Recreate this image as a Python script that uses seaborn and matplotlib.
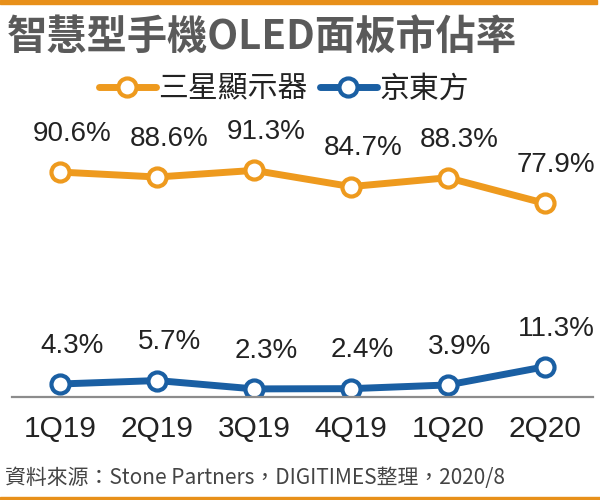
import numpy as np
import pandas as pd
import matplotlib
matplotlib.use("Agg")
import matplotlib.pyplot as plt
from matplotlib.patches import Rectangle
import seaborn as sns

# data
quarters = ["1Q19", "2Q19", "3Q19", "4Q19", "1Q20", "2Q20"]
samsung = [90.6, 88.6, 91.3, 84.7, 88.3, 77.9]
boe = [4.3, 5.7, 2.3, 2.4, 3.9, 11.3]
series_names = ["三星顯示器", "京東方"]

title = "智慧型手機OLED面板市佔率"
source = "資料來源：Stone Partners，DIGITIMES整理，2020/8"

ORANGE = "#EE9A1E"
BLUE = "#1A5FA3"
TEXT = "#222222"

sns.set_style("white")
plt.rcParams["font.family"] = ["Noto Sans CJK TC", "DejaVu Sans"]

df = pd.DataFrame({
    "quarter": quarters * 2,
    "idx": list(range(len(quarters))) * 2,
    "share": samsung + boe,
    "company": [series_names[0]] * len(quarters) + [series_names[1]] * len(quarters),
})

fig = plt.figure(figsize=(6, 5), dpi=100)
ax = fig.add_axes([12 / 600, 103 / 500, 581 / 600, 247 / 500])

line_kw = dict(marker="o", markersize=13, markerfacecolor="white",
               markeredgewidth=3, linewidth=5)
for name, color in zip(series_names, [ORANGE, BLUE]):
    sub = df[df["company"] == name]
    sns.lineplot(data=sub, x="idx", y="share", ax=ax, color=color,
                 markeredgecolor=color, label=name, legend=False, **line_kw)
    for x, y in zip(sub["idx"], sub["share"]):
        ax.annotate(f"{y:.1f}%", (x, y), xytext=(8.5, 27.5),
                    textcoords="offset points", ha="center", va="center",
                    fontsize=20, color=TEXT, family="Liberation Sans")

ax.set_xlim(-0.5, len(quarters) - 0.5)
ax.set_ylim(-1.0, 99.6)
ax.set_xlabel("")
ax.set_ylabel("")
ax.set_yticks([])
for side in ["top", "right", "left"]:
    ax.spines[side].set_visible(False)
ax.spines["bottom"].set_color("#8C8C8C")
ax.spines["bottom"].set_linewidth(1.6)

# tick marks sit between quarters, labels sit under the points
ax.set_xticks(np.arange(-0.5, len(quarters)))
ax.set_xticklabels([])
ax.set_xticks(range(len(quarters)), minor=True)
ax.set_xticklabels(quarters, minor=True, fontsize=21.5, color=TEXT,
                   family="Liberation Sans")
ax.tick_params(axis="x", which="major", length=5, width=1.6,
               color="#8C8C8C", direction="out")
ax.tick_params(axis="x", which="minor", length=0, pad=13)

fig.text(7 / 600, 1 - 37 / 500, title, fontsize=29, fontweight="bold",
         color="#5A5A5A", ha="left", va="center")

handles, labels = ax.get_legend_handles_labels()
leg = fig.legend(handles, labels, loc="center", bbox_to_anchor=(284 / 600, 1 - 89 / 500),
                 ncol=2, frameon=False, handlelength=1.9,
                 handletextpad=0.1, columnspacing=0.4, borderpad=0, labelcolor=TEXT,
                 prop={"size": 21.5})

fig.text(5 / 600, 1 - 478 / 500, source, fontsize=15,
         color="#444444", ha="left", va="center")

# orange rules at top and bottom of the graphic
fig.patches.append(Rectangle((0, 1 - 4 / 500), 597 / 600, 4 / 500,
                             transform=fig.transFigure, color="#E8901A"))
fig.patches.append(Rectangle((0, 0), 1, 3 / 500,
                             transform=fig.transFigure, color="#E8901A"))

fig.savefig("out.png", dpi=100)
